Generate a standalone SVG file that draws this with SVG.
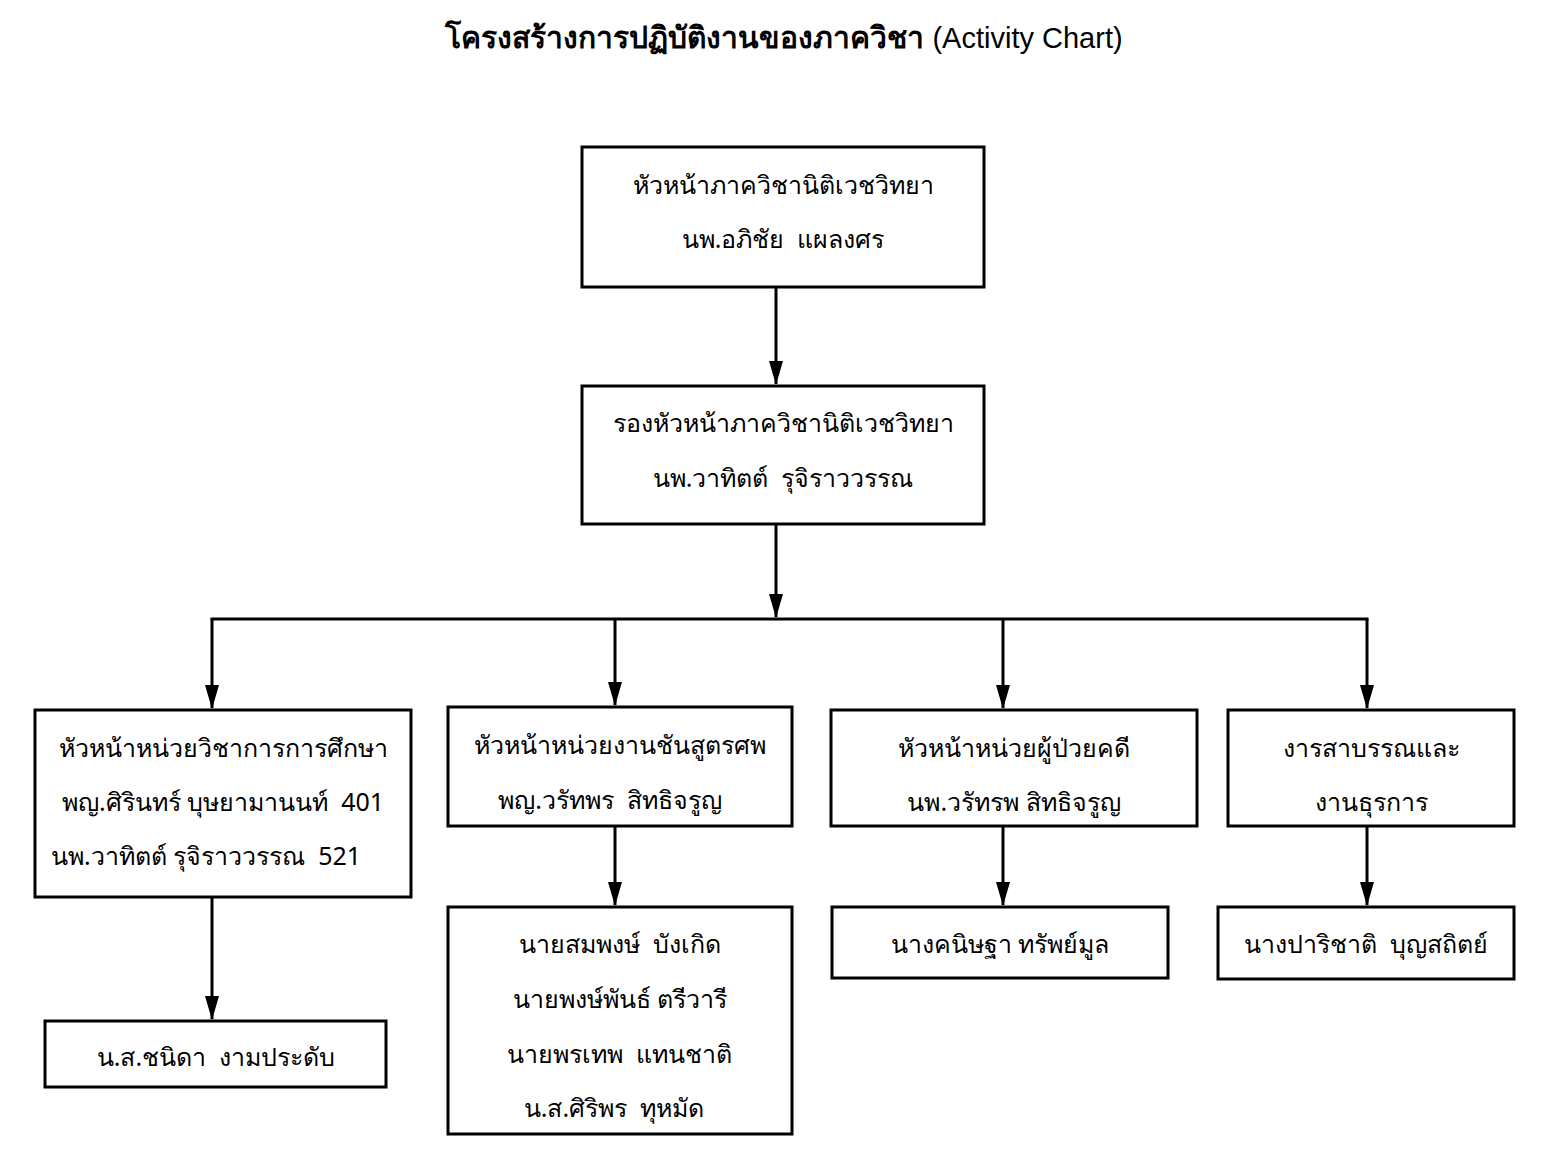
<svg xmlns="http://www.w3.org/2000/svg" width="1552" height="1157" viewBox="0 0 1552 1157">
<defs>
<style>
.box{fill:#fff;stroke:#000;stroke-width:3}
.t{font-family:"Noto Sans","DejaVu Sans","Liberation Sans",sans-serif;font-size:25px;fill:#000;text-anchor:middle;white-space:pre}
.title{font-family:"Noto Sans","DejaVu Sans","Liberation Sans",sans-serif;font-size:30px;fill:#000;text-anchor:middle}
.en{font-family:"Liberation Sans",Arial,sans-serif;font-size:29px}
.c{stroke:#000;stroke-width:3;fill:none}
</style>
<marker id="ah" viewBox="0 0 24 14" refX="23" refY="7" markerWidth="24" markerHeight="14" markerUnits="userSpaceOnUse" orient="auto">
<path d="M0,0 L24,7 L0,14 Z" fill="#000"/>
</marker>
</defs>
<rect width="1552" height="1157" fill="#fff"/>
<text class="title" x="784" y="48"><tspan font-weight="bold">โครงสร้างการปฏิบัติงานของภาควิชา</tspan><tspan class="en"> (Activity Chart)</tspan></text>

<g id="connectors">
<line class="c" x1="776" y1="287" x2="776" y2="384" marker-end="url(#ah)"/>
<line class="c" x1="776" y1="524" x2="776" y2="617" marker-end="url(#ah)"/>
<line class="c" x1="210.5" y1="619" x2="1368.5" y2="619"/>
<line class="c" x1="212" y1="619" x2="212" y2="708" marker-end="url(#ah)"/>
<line class="c" x1="615" y1="619" x2="615" y2="705" marker-end="url(#ah)"/>
<line class="c" x1="1003" y1="619" x2="1003" y2="708" marker-end="url(#ah)"/>
<line class="c" x1="1367" y1="619" x2="1367" y2="708" marker-end="url(#ah)"/>
<line class="c" x1="212" y1="897" x2="212" y2="1019" marker-end="url(#ah)"/>
<line class="c" x1="615" y1="826" x2="615" y2="905" marker-end="url(#ah)"/>
<line class="c" x1="1003" y1="826" x2="1003" y2="905" marker-end="url(#ah)"/>
<line class="c" x1="1367" y1="826" x2="1367" y2="905" marker-end="url(#ah)"/>
</g>

<g id="head">
<rect class="box" x="582" y="147" width="402" height="140"/>
<text class="t" x="783" y="194">หัวหน้าภาควิชานิติเวชวิทยา</text>
<text class="t" x="783" y="248">นพ.อภิชัย  แผลงศร</text>
</g>
<g id="deputy">
<rect class="box" x="582" y="386" width="402" height="138"/>
<text class="t" x="783" y="432">รองหัวหน้าภาควิชานิติเวชวิทยา</text>
<text class="t" x="783" y="487">นพ.วาทิตต์  รุจิราววรรณ</text>
</g>
<g id="unit-education">
<rect class="box" x="35" y="710" width="376" height="187"/>
<text class="t" x="223" y="757">หัวหน้าหน่วยวิชาการการศึกษา</text>
<text class="t" x="223" y="811">พญ.ศิรินทร์ บุษยามานนท์  401</text>
<text class="t" x="206" y="865">นพ.วาทิตต์ รุจิราววรรณ  521</text>
</g>
<g id="unit-autopsy">
<rect class="box" x="448" y="707" width="344" height="119"/>
<text class="t" x="620" y="754">หัวหน้าหน่วยงานชันสูตรศพ</text>
<text class="t" x="610" y="809">พญ.วรัทพร  สิทธิจรูญ</text>
</g>
<g id="unit-clinical">
<rect class="box" x="831" y="710" width="366" height="116"/>
<text class="t" x="1014" y="757">หัวหน้าหน่วยผู้ป่วยคดี</text>
<text class="t" x="1014" y="811">นพ.วรัทรพ สิทธิจรูญ</text>
</g>
<g id="unit-admin">
<rect class="box" x="1228" y="710" width="286" height="116"/>
<text class="t" x="1371" y="757">งารสาบรรณและ</text>
<text class="t" x="1371" y="811">งานธุรการ</text>
</g>
<g id="staff-education">
<rect class="box" x="45" y="1021" width="341" height="66"/>
<text class="t" x="216" y="1066">น.ส.ชนิดา  งามประดับ</text>
</g>
<g id="staff-autopsy">
<rect class="box" x="448" y="907" width="344" height="227"/>
<text class="t" x="620" y="953">นายสมพงษ์  บังเกิด</text>
<text class="t" x="620" y="1008">นายพงษ์พันธ์ ตรีวารี</text>
<text class="t" x="620" y="1063">นายพรเทพ  แทนชาติ</text>
<text class="t" x="614" y="1117">น.ส.ศิริพร  ทุหมัด</text>
</g>
<g id="staff-clinical">
<rect class="box" x="832" y="907" width="336" height="71"/>
<text class="t" x="1000" y="953">นางคนิษฐา ทรัพย์มูล</text>
</g>
<g id="staff-admin">
<rect class="box" x="1218" y="907" width="296" height="72"/>
<text class="t" x="1366" y="953">นางปาริชาติ  บุญสถิตย์</text>
</g>
</svg>
